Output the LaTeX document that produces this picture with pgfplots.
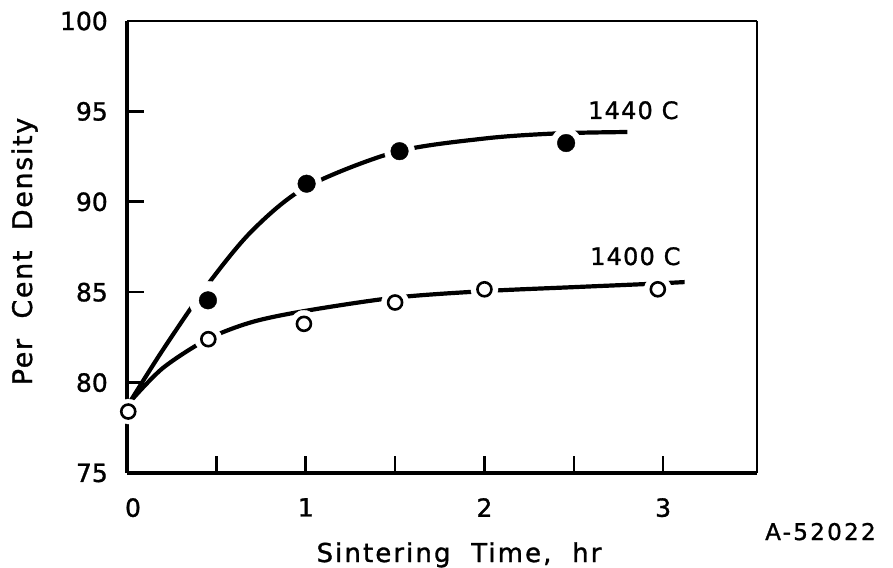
\documentclass[border=0pt]{standalone}
\usepackage{pgfplots}
\pgfplotsset{compat=1.18}
\usepackage{pgfplotstable}
\usepackage{fontspec}
\setmainfont{DejaVu Sans}[FakeBold=1]
\newfontfamily\lab{DejaVu Sans}[FakeBold=1.2]

\pgfplotstableread{
x y
0.453 84.55
1.005 91.0
1.525 92.8
2.457 93.25
}\hot
\pgfplotstableread{
x y
0.455 82.4
0.99 83.25
1.50 84.43
2.00 85.16
2.97 85.16
}\cool
\pgfplotstableread{
x y
0.007 78.4
}\origin
\pgfplotstableread{
x y
0.017 78.94
0.2 81.8
0.45 85.4
0.7 88.4
1.0 90.8
1.5 92.75
2.0 93.5
2.4 93.78
2.8 93.86
}\hotfit
\pgfplotstableread{
x y
0.017 78.94
0.2 80.8
0.45 82.4
0.7 83.35
1.0 83.97
1.5 84.7
2.0 85.06
2.5 85.28
2.9 85.45
3.12 85.56
}\coolfit

\begin{document}
\begin{tikzpicture}[x=1pt,y=1pt]
\useasboundingbox (0,0) rectangle (893,567);
\begin{axis}[
  at={(127pt,94pt)}, anchor=origin,
  scale only axis, width=630pt, height=452pt,
  xmin=0, xmax=3.525, ymin=75, ymax=100,
  clip=false,
  axis x line*=bottom, axis y line*=left,
  axis line style={line width=3.2pt, black},
  xtick={0,1,2,3}, minor xtick={0.5,1.5,2.5},
  xticklabels={\hspace*{12pt}0,1,2,3},
  ytick={75,80,...,100},
  tick align=inside,
  major tick length=17pt, minor tick length=17pt,
  every tick/.style={line width=2.6pt, black},
  /pgf/number format/assume math mode=true,
  ticklabel style={font=\lab\fontsize{25}{30}\selectfont, inner sep=0pt},
  yticklabel style={anchor=east, xshift=-19pt},
  xticklabel style={anchor=north, yshift=-25pt},
]
% thin top and right frame lines
\draw[line width=2pt] (rel axis cs:0,1) -- (rel axis cs:1,1);
\draw[line width=1.3pt] (rel axis cs:1,1) -- (rel axis cs:1,0);
% gap in the y axis at the origin point
\addplot[only marks, mark=*, mark size=12.5pt, mark options={draw=white, fill=white}] table {\origin};
% fitted curves
\addplot[smooth, line width=4.2pt, black] table {\hotfit};
\addplot[smooth, line width=4.2pt, black] table {\coolfit};
% gaps around points
\addplot[only marks, mark=*, mark size=15pt, mark options={draw=white, fill=white}] table {\hot};
\addplot[only marks, mark=*, mark size=19pt, mark options={draw=white, fill=white}] coordinates {(0.453,84.55)};
\addplot[only marks, mark=*, mark size=13.5pt, mark options={draw=white, fill=white}] table {\cool};
% points
\addplot[only marks, mark=*, mark size=8.8pt, mark options={draw=black, fill=black}] table {\hot};
\addplot[only marks, mark=*, mark size=7pt, mark options={draw=black, fill=white, line width=2.6pt}] table {\cool};
\addplot[only marks, mark=*, mark size=7pt, mark options={draw=black, fill=white, line width=2.6pt}] table {\origin};
\end{axis}
\node[anchor=base west, inner sep=0pt, font=\lab\fontsize{24}{28}\selectfont\addfontfeature{LetterSpace=5}] at (588,448) {1440 C};
\node[anchor=base west, inner sep=0pt, font=\lab\fontsize{24}{28}\selectfont\addfontfeature{LetterSpace=5}] at (590,302) {1400 C};
\node[anchor=base, inner sep=0pt, font=\lab\fontsize{26}{30}\selectfont\addfontfeature{LetterSpace=8}] at (459,5) {Sintering\ \ Time,\ \ hr};
\node[anchor=base, rotate=90, inner sep=0pt, font=\lab\fontsize{27}{32}\selectfont\addfontfeature{LetterSpace=6}] at (32,315.5) {Per\ \ Cent\ \ Density};
\node[anchor=base west, inner sep=0pt, font=\lab\fontsize{23}{27}\selectfont\addfontfeature{LetterSpace=10}] at (765,27) {A-52022};
\end{tikzpicture}
\end{document}
